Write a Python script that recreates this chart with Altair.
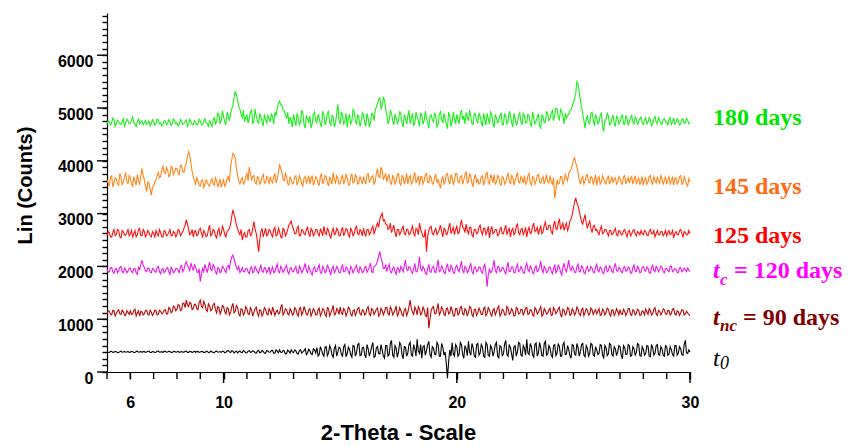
import altair as alt
import pandas as pd
import numpy as np

# 2-Theta sampling grids (degrees): main points and in-between points
theta_main = np.round(np.arange(5.0, 30.05, 0.1), 2)
theta_mid = np.round(np.arange(5.05, 29.96, 0.1), 2)

green = [
4690,4740,4720,4780,4700,4750,4690,4800,4720,4760,
4710,4830,4690,4740,4700,4760,4720,4690,4750,4710,
4740,4700,4770,4720,4680,4750,4710,4740,4700,4760,
4720,4690,4750,4710,4770,4700,4740,4680,4730,4700,
4760,4690,4800,4710,4770,4650,4820,4740,4880,4760,
4830,4680,4850,4900,5050,5320,5150,4980,4820,4740,
4870,4790,4960,4760,4850,4700,4820,4660,4780,4860,
4740,4830,4920,5000,5130,5050,4950,4800,4700,4760,
4880,4660,4820,4740,4900,4620,4790,4850,4700,4930,
4720,4800,4640,4870,4750,4940,4680,4830,4720,5070,
4700,4860,4760,4630,4880,4750,4920,4690,4810,4740,
4870,4660,4800,4730,4880,4950,5080,5190,5040,5150,
4870,4760,4900,4680,4820,4750,4880,4640,4790,4850,
4700,4900,4720,4830,4650,4880,4760,4810,4620,4870,
4740,4850,4690,4930,4720,4800,4610,4860,4740,4790,
4880,4700,4960,4850,4920,4760,4830,4690,4880,4720,
4840,4650,4780,4900,4700,4870,4630,4810,4760,4900,
4690,4830,4750,4880,4640,4800,4720,4910,4680,4850,
4730,4860,4660,4800,4750,4890,4620,4830,4740,4880,
4790,4950,4870,4990,4780,4930,4700,4810,4880,4960,
5100,5280,5450,5150,4900,4620,4850,4700,4920,4660,
4810,4740,4900,4560,4780,4850,4700,4870,4650,4820,
4740,4880,4690,4800,4740,4860,4700,4790,4750,4830,
4690,4820,4730,4780,4700,4840,4710,4770,4690,4800,
4730,4780,4690,4810,4720,4760,4700,4790,4720,4770,
4720]
green_mid = [
4760,4680,4810,4650,4770,4700,4740,4660,4790,4700,
4770,4720,4650,4790,4730,4680,4760,4720,4660,4780,
4680,4790,4700,4660,4760,4690,4780,4670,4790,4700,
4660,4780,4690,4740,4650,4790,4690,4760,4680,4790,
4680,4760,4720,4640,4700,4780,4700,4900,4700,4950,
4740,4920,4760,4980,5200,5250,5030,4880,4960,4830,
4720,4920,4700,4980,4760,4900,4740,4880,4720,4800,
4900,4700,4860,5080,5060,4960,4870,4920,4830,4640,
4770,4900,4680,4960,4680,4860,4720,4620,4880,4760,
4880,4700,4940,4680,4900,4720,4860,4640,4900,4760,
4930,4680,4900,4820,4700,4970,4760,4880,4650,4910,
4720,4900,4640,4900,4760,5020,5170,4990,5200,4980,
4700,4950,4760,4890,4700,4940,4720,4880,4700,4960,
4800,4660,4920,4760,4900,4700,4940,4720,4850,4780,
4910,4640,4880,4780,4900,4700,4920,4650,4930,4700,
4780,4900,4780,4700,4820,4960,4700,4900,4760,4900,
4740,4900,4680,4800,4920,4700,4880,4720,4860,4680,
4900,4700,4940,4720,4900,4680,4860,4740,4900,4720,
4880,4700,4930,4700,4820,4660,4870,4720,4940,4760,
4900,4760,5000,4820,4970,4860,4900,4860,4950,5040,
5180,5500,5300,5020,4760,4800,4720,4900,4780,4880,
4700,4860,4640,4760,4900,4680,4800,4720,4840,4700,
4820,4700,4860,4680,4820,4740,4830,4680,4800,4720,
4780,4700,4820,4660,4790,4730,4820,4700,4790,4740,
4680,4820,4740,4700,4800,4680,4790,4710,4800,4700]

orange = [
3640,3520,3720,3580,3660,3540,3700,3600,3780,3560,
3680,3520,3620,3740,3560,3860,3640,3420,3580,3350,
3520,3640,3780,3700,3900,3760,3820,3720,3880,3790,
3850,3740,3900,3780,3960,4170,3950,3700,3560,3620,
3520,3640,3560,3600,3520,3660,3540,3620,3580,3500,
3640,3560,3700,3900,4140,4050,3720,3560,3680,3600,
3760,3880,3640,3720,3560,3680,3600,3740,3580,3660,
3700,3580,3760,3650,3920,3780,3620,3700,3540,3640,
3580,3720,3600,3660,3520,3700,3640,3560,3720,3600,
3680,3540,3760,3620,3700,3520,3640,3780,3580,3660,
3560,3720,3620,3680,3540,3760,3600,3700,3580,3640,
3700,3560,3760,3640,3720,3600,3850,3680,3820,3700,
3600,3740,3560,3680,3620,3760,3540,3700,3640,3560,
3720,3600,3780,3640,3540,3700,3620,3760,3580,3680,
3560,3740,3640,3480,3700,3600,3760,3560,3680,3620,
3760,3580,3720,3640,3800,3600,3700,3520,3740,3660,
3580,3720,3620,3780,3560,3680,3740,3600,3700,3540,
3680,3600,3760,3560,3700,3620,3780,3580,3660,3720,
3600,3760,3540,3680,3620,3740,3580,3700,3640,3600,
3720,3560,3290,3640,3580,3700,3620,3680,3760,3840,
4010,3960,3780,3560,3700,3620,3740,3580,3680,3620,
3540,3700,3600,3660,3560,3720,3620,3580,3680,3600,
3660,3560,3720,3620,3580,3700,3640,3560,3680,3600,
3540,3680,3600,3720,3560,3640,3700,3580,3660,3620,
3560,3700,3620,3540,3680,3600,3720,3580,3640,3520,
3600]
orange_mid = [
3580,3700,3500,3680,3560,3760,3540,3680,3620,3720,
3560,3700,3540,3620,3700,3720,3520,3600,3460,3500,
3600,3720,3680,3840,3780,3880,3700,3900,3740,3860,
3760,3920,3800,3880,4080,4100,3800,3620,3680,3540,
3620,3500,3640,3540,3620,3560,3680,3500,3660,3580,
3520,3660,3600,4020,4110,3860,3620,3640,3560,3700,
3620,3760,3700,3580,3700,3560,3700,3580,3700,3560,
3620,3700,3580,3780,3860,3640,3760,3560,3700,3560,
3700,3540,3720,3560,3680,3580,3720,3660,3540,3700,
3560,3700,3560,3720,3580,3700,3560,3640,3720,3560,
3680,3560,3740,3560,3700,3580,3740,3560,3700,3560,
3620,3740,3600,3700,3560,3760,3700,3880,3640,3760,
3700,3580,3720,3560,3740,3580,3720,3560,3760,3680,
3560,3700,3580,3720,3700,3560,3740,3600,3720,3560,
3700,3580,3560,3640,3560,3740,3620,3740,3560,3760,
3600,3700,3560,3740,3580,3760,3560,3680,3580,3560,
3700,3540,3760,3600,3740,3580,3560,3720,3560,3700,
3560,3700,3620,3720,3540,3700,3600,3700,3580,3560,
3720,3580,3700,3560,3720,3600,3660,3560,3740,3580,
3600,3680,3450,3560,3700,3560,3740,3620,3800,3920,
4060,3880,3640,3660,3560,3720,3600,3700,3560,3740,
3660,3560,3720,3580,3660,3560,3700,3660,3560,3700,
3580,3700,3560,3680,3660,3560,3720,3620,3560,3700,
3640,3560,3700,3600,3700,3580,3620,3720,3560,3700,
3640,3560,3700,3660,3560,3700,3560,3700,3560,3660]

red = [
2580,2640,2560,2700,2600,2680,2540,2650,2590,2700,
2620,2560,2680,2600,2720,2580,2660,2600,2640,2560,
2620,2680,2580,2640,2560,2660,2600,2700,2580,2640,
2600,2680,2620,2720,2880,2700,2620,2560,2680,2600,
2720,2560,2640,2580,2780,2600,2680,2540,2720,2620,
2700,2560,2680,2800,3070,2900,2720,2600,2500,2640,
2560,2700,2600,2850,2620,2280,2660,2560,2720,2600,
2680,2560,2740,2600,2660,2540,2700,2620,2780,2860,
2700,2620,2760,2580,2680,2600,2740,2560,2680,2620,
2700,2580,2660,2760,2600,2680,2540,2720,2620,2680,
2580,2740,2640,2700,2560,2680,2620,2760,2600,2660,
2720,2580,2700,2640,2760,2680,2820,2900,3010,2880,
2800,2720,2640,2780,2560,2700,2640,2760,2600,2700,
2620,2760,2580,2700,2820,2640,2560,2280,2680,2760,
2600,2720,2640,2780,2560,2700,2620,2820,2680,2600,
2760,2640,2880,2720,2800,2620,2740,2560,2700,2640,
2780,2600,2720,2660,2540,2760,2640,2700,2600,2740,
2620,2780,2680,2560,2720,2640,2800,2600,2720,2660,
2560,2740,2640,2820,2680,2600,2760,2660,2840,2700,
2780,2620,2860,2700,2900,2760,2680,2820,2740,2900,
3100,3300,3150,2950,2800,2980,2720,2860,2640,2780,
2700,2600,2760,2640,2700,2580,2680,2620,2720,2580,
2660,2600,2700,2560,2680,2620,2700,2580,2640,2680,
2600,2660,2580,2700,2620,2560,2680,2600,2660,2620,
2580,2680,2620,2540,2660,2600,2700,2560,2640,2600,
2620]
red_mid = [
2660,2560,2640,2580,2700,2560,2680,2600,2640,2580,
2680,2620,2560,2700,2580,2700,2560,2680,2580,2660,
2560,2620,2700,2560,2680,2580,2640,2580,2660,2560,
2700,2580,2660,2780,2800,2600,2700,2660,2580,2700,
2620,2680,2560,2700,2580,2700,2580,2660,2580,2760,
2600,2660,2720,2950,2980,2780,2640,2700,2600,2560,
2680,2580,2720,2700,2480,2500,2720,2640,2580,2700,
2600,2700,2580,2720,2560,2720,2580,2700,2820,2760,
2620,2720,2580,2700,2620,2700,2620,2720,2580,2700,
2620,2700,2580,2640,2720,2580,2660,2600,2720,2580,
2680,2580,2720,2600,2720,2580,2720,2620,2700,2580,
2620,2700,2600,2720,2620,2760,2740,2960,2860,2800,
2700,2820,2700,2640,2700,2600,2720,2620,2700,2600,
2700,2620,2720,2600,2700,2560,2700,2560,2740,2620,
2680,2600,2700,2660,2720,2600,2740,2620,2740,2700,
2620,2780,2740,2640,2680,2740,2600,2700,2620,2740,
2660,2720,2600,2760,2680,2620,2700,2580,2700,2620,
2700,2600,2720,2680,2600,2760,2640,2700,2600,2740,
2680,2620,2760,2660,2740,2700,2620,2780,2700,2780,
2660,2780,2720,2820,2700,2820,2760,2680,2860,2980,
3220,3200,3050,2840,2900,2820,2800,2720,2760,2680,
2640,2700,2620,2700,2640,2680,2600,2680,2600,2680,
2600,2680,2620,2660,2580,2680,2620,2660,2600,2620,
2680,2600,2660,2620,2680,2620,2600,2660,2580,2680,
2640,2600,2680,2620,2600,2680,2620,2660,2600,2680]

magenta = [
1950,1900,1980,1870,1960,1920,2000,1880,1940,1910,
1970,1880,1960,1850,1940,2120,1980,1900,1960,1880,
1950,1890,2000,1860,1960,1910,1980,1850,1940,1900,
1960,1880,2020,1940,2090,1980,2060,1920,1990,1880,
1710,1960,2040,1880,2080,1920,2000,1860,1960,1900,
1980,1880,2020,2100,2215,2060,1940,1880,1980,1900,
1960,1860,1990,1900,1950,1870,2020,1890,1960,1920,
1850,1990,1900,2040,1880,1960,1920,2020,1860,1980,
1900,2000,1870,1960,1920,2060,1880,1940,1840,1990,
1910,2030,1870,1960,1900,1980,1850,2000,1920,1960,
1880,2040,1900,1970,1860,1960,1920,2020,1880,1950,
1900,2000,1930,2060,1880,2010,2100,2280,2080,1960,
1900,2040,1880,1990,1850,1960,2000,1900,2120,1920,
1980,1870,2060,1900,2180,1920,1960,1850,2040,1890,
2000,1880,2130,1920,1960,1860,2050,1900,1980,1870,
2020,1900,2100,1880,1970,1910,2060,1860,1990,1920,
1980,1870,2040,1615,1960,1900,2120,1880,2000,1920,
1970,1860,2080,1910,1990,1880,2040,1920,1960,1870,
2060,1900,1980,1860,2010,1920,2100,1880,1960,1900,
1990,1860,2040,1920,1980,1840,2060,1900,2120,1920,
1960,1880,2040,1900,1980,1860,2000,1920,1970,1880,
2040,1900,1960,1860,2010,1920,1980,1880,2060,1910,
1960,1880,2000,1920,1970,1870,2030,1900,1960,1890,
2000,1910,1960,1870,2020,1900,1970,1930,1990,1880,
1960,1900,2000,1920,1950,1880,1980,1920,1940,1970,
1900]
magenta_mid = [
1890,1970,1900,1950,1880,1980,1900,1970,1880,1960,
1900,1960,1880,1980,2040,2020,1920,1970,1890,1960,
1900,1980,1900,1950,1880,1960,1900,1980,1880,1960,
1920,2000,1900,2040,2010,1920,1990,2030,1900,1960,
1860,1900,1960,2000,1940,2040,1900,1980,1880,2000,
1920,2000,1960,2180,2140,1980,2000,1920,1900,1960,
1900,1960,1880,2000,1900,1960,1900,1980,1880,1990,
1930,1880,1980,1900,2000,1890,1980,1900,1960,1900,
1960,1880,2010,1880,1980,1920,2000,1880,1960,1900,
1980,1880,2000,1880,2020,1900,1960,1880,2000,1880,
1960,1900,1990,1900,2000,1880,1980,1900,1990,1880,
1980,1890,1990,1900,2000,2040,2200,2160,1960,2040,
1980,1900,1960,1900,1980,1880,1960,2020,1940,2000,
1900,1960,1900,2000,1960,2000,1880,1960,1900,1980,
1900,2000,1900,2010,1880,1980,1920,2020,1880,1990,
1930,2000,1920,2000,1880,2000,1900,1980,1900,1990,
1900,1990,1880,1840,1880,2000,1920,1990,1900,1980,
1900,1990,1900,1990,1880,1980,1900,2000,1880,2000,
1940,2010,1880,1970,1900,2000,1940,2000,1880,1980,
1910,1960,1880,2020,1890,1980,1940,2000,1960,2000,
1890,1990,1900,2010,1880,1960,1910,2000,1890,1990,
1920,1990,1880,1980,1900,2010,1900,1990,1920,1980,
1900,1980,1910,1990,1880,1980,1910,2000,1880,1980,
1930,1990,1880,1980,1920,2000,1900,2010,1900,1960,
1920,2000,1900,1960,1880,1970,1900,1970,1900,1930]

darkred = [
1100,1150,1080,1160,1110,1180,1090,1140,1070,1130,
1160,1100,1190,1120,1060,1140,1100,1170,1080,1130,
1110,1160,1090,1150,1120,1180,1100,1200,1150,1230,
1190,1260,1180,1300,1360,1240,1300,1200,1280,1180,
1360,1220,1280,1150,1250,1180,1300,1120,1220,1160,
1240,1100,1200,1130,1300,1150,1220,1060,1180,1120,
1200,1090,1170,1130,1230,1060,1160,1110,1190,1080,
1150,1230,1070,1170,1110,1280,1120,1180,1080,1160,
1100,1190,1060,1220,1130,1170,1080,1200,1120,1160,
1080,1210,1110,1180,1050,1200,1120,1260,1100,1170,
1230,1090,1170,1120,1200,1060,1180,1130,1220,1080,
1160,1110,1240,1070,1180,1130,1210,1090,1170,1140,
1220,1080,1190,1120,1250,1100,1170,1060,1200,1130,
1360,1140,1230,1080,1200,1110,1180,1050,830,1160,
1240,1100,1300,1130,1190,1070,1210,1120,1170,1060,
1200,1110,1240,1080,1170,1130,1220,1050,1190,1120,
1160,1090,1230,1110,1180,1060,1200,1140,1250,1100,
1170,1080,1210,1120,1160,1070,1200,1110,1180,1140,
1220,1100,1170,1060,1190,1130,1240,1090,1160,1120,
1210,1080,1180,1140,1230,1050,1170,1110,1200,1090,
1160,1120,1190,1070,1210,1130,1170,1090,1180,1140,
1100,1200,1080,1160,1120,1190,1060,1170,1110,1150,
1180,1090,1150,1120,1200,1070,1160,1110,1170,1080,
1140,1190,1090,1160,1110,1220,1070,1150,1120,1180,
1090,1160,1110,1200,1080,1140,1120,1170,1100,1120,
1070]
darkred_mid = [
1160,1090,1170,1060,1150,1100,1170,1080,1160,1090,
1090,1170,1060,1160,1150,1080,1160,1090,1170,1070,
1170,1080,1170,1100,1170,1100,1220,1120,1250,1160,
1280,1160,1300,1220,1270,1320,1180,1280,1200,1320,
1240,1340,1180,1290,1160,1280,1180,1240,1100,1260,
1140,1220,1080,1240,1120,1260,1100,1200,1080,1240,
1100,1220,1060,1200,1110,1180,1060,1220,1100,1200,
1080,1160,1140,1100,1220,1080,1200,1100,1200,1080,
1220,1100,1200,1080,1240,1090,1170,1060,1200,1080,
1180,1060,1200,1090,1220,1060,1180,1080,1200,1090,
1120,1200,1060,1230,1100,1160,1070,1200,1100,1180,
1080,1210,1100,1200,1090,1190,1060,1210,1080,1220,
1100,1230,1080,1180,1060,1220,1090,1180,1070,1240,
1200,1080,1180,1240,1080,1230,1070,1220,1000,1220,
1110,1200,1080,1230,1090,1200,1100,1240,1060,1200,
1080,1220,1100,1200,1060,1240,1090,1180,1070,1210,
1090,1200,1070,1220,1100,1170,1080,1210,1060,1190,
1080,1240,1090,1200,1060,1220,1100,1190,1070,1210,
1090,1180,1080,1220,1100,1190,1060,1200,1100,1180,
1070,1220,1100,1200,1080,1190,1080,1220,1070,1200,
1080,1230,1100,1180,1070,1200,1080,1210,1090,1180,
1150,1070,1190,1080,1210,1100,1180,1070,1200,1080,
1100,1190,1070,1200,1090,1180,1080,1190,1070,1160,
1080,1140,1200,1080,1190,1100,1170,1080,1200,1100,
1170,1080,1190,1100,1160,1070,1180,1080,1150,1090]

black = [
380,370,390,375,385,370,395,380,375,390,
375,385,370,395,380,372,388,378,392,370,
385,375,395,380,370,390,378,386,372,392,
380,370,388,376,395,372,386,380,374,390,
378,386,370,392,376,384,368,395,380,372,
390,375,410,368,395,380,360,400,372,390,
365,405,380,395,360,410,375,390,355,400,
380,410,360,395,420,370,400,350,390,420,
365,400,340,420,380,440,360,400,330,420,
460,330,420,300,480,360,440,280,500,380,
450,300,520,350,430,280,490,360,540,320,
470,270,440,380,560,300,480,340,420,260,
500,330,600,280,450,380,520,250,470,360,
560,300,440,620,350,260,500,400,580,280,
450,330,520,300,470,380,-120,420,560,300,
480,340,520,260,440,580,320,460,280,540,
360,470,280,520,300,450,380,560,270,480,
340,600,300,460,220,500,380,540,300,450,
620,330,480,280,550,360,460,300,580,340,
450,280,520,360,480,300,560,340,430,260,
500,320,460,380,540,290,450,350,520,300,
420,360,500,270,460,340,520,300,440,380,
480,250,460,340,500,310,440,370,520,300,
430,350,490,290,460,360,520,320,440,300,
480,340,420,300,500,360,440,320,600,350,
380]
black_mid = [
374,388,372,390,368,386,374,390,378,372,
392,370,388,374,390,386,372,394,370,386,
370,392,374,386,390,374,392,370,388,376,
392,380,374,392,372,390,370,394,386,372,
390,372,392,368,394,370,390,374,388,396,
365,400,380,405,360,398,385,370,405,362,
395,372,402,366,395,365,410,360,405,375,
405,355,420,365,375,410,340,415,360,380,
420,350,410,360,405,330,430,345,440,360,
300,480,340,470,310,500,320,450,300,470,
330,480,290,470,330,500,300,520,310,460,
330,520,300,480,280,460,350,520,300,500,
300,540,320,500,280,560,330,480,300,520,
320,520,300,400,520,480,320,520,330,480,
340,560,300,540,320,160,200,300,340,520,
300,560,330,500,310,380,540,300,520,320,
520,300,560,310,500,300,520,300,500,310,
530,330,520,340,480,300,560,320,500,320,
360,540,320,520,300,560,310,540,320,500,
320,500,310,540,300,520,330,500,310,520,
340,540,300,520,320,500,300,540,320,480,
330,520,320,500,310,540,330,480,310,500,
320,500,330,520,300,480,320,540,310,480,
320,500,300,520,320,500,330,480,320,500,
320,480,330,500,320,480,330,520,360,420]

series_names = ["180 days", "145 days", "125 days", "tc = 120 days", "tnc = 90 days", "t0"]
series_main = [green, orange, red, magenta, darkred, black]
series_mid = [green_mid, orange_mid, red_mid, magenta_mid, darkred_mid, black_mid]
line_colors = ["#18f018", "#ff8518", "#ff1010", "#e81ae8", "#b80808", "#000000"]

# label colour keys share the colour scale with the traces
label_keys = ["L180", "L145", "L125", "L120", "L90", "L0"]
label_key_colors = ["#00e600", "#ff6a13", "#ff0000", "#ff00ff", "#800000", "#000000"]

# axis tick positions
x_minor_ticks = list(range(5, 31))
x_major_ticks = [10, 20, 30]
x_tick_labels = [6, 10, 20, 30]
y_minor_ticks = list(range(0, 6751, 125))
y_major_ticks = list(range(0, 6001, 1000))

frames = []
for name, main_vals, mid_vals in zip(series_names, series_main, series_mid):
    frames.append(pd.DataFrame({"theta": theta_main, "counts": main_vals, "series": name}))
    frames.append(pd.DataFrame({"theta": theta_mid, "counts": mid_vals, "series": name}))
df = pd.concat(frames, ignore_index=True).sort_values(["series", "theta"]).reset_index(drop=True)

X_DOMAIN = [5, 30]
Y_DOMAIN = [0, 6800]
PLOT_W, PLOT_H = 583, 359
xs = alt.Scale(domain=X_DOMAIN, nice=False, zero=False)
ys = alt.Scale(domain=Y_DOMAIN, nice=False, zero=False)
cs = alt.Scale(domain=series_names + label_keys, range=line_colors + label_key_colors)

common = dict(domainColor="black", domainWidth=1.2, grid=False, tickColor="black", tickWidth=1.4,
              labelFont="Liberation Sans", labelFontSize=16, labelFontWeight="bold",
              labelColor="black", labelOverlap=False, labelFlush=False)

x_main = alt.Axis(values=x_tick_labels, tickSize=7, labelPadding=15, orient="bottom",
                  title="2-Theta - Scale", titleFont="Liberation Sans", titleFontSize=22,
                  titleFontWeight="bold", titleColor="black", titleX=291, titleY=60,
                  titleBaseline="middle", titleAlign="center", **common)
y_main = alt.Axis(values=y_minor_ticks, labelExpr="datum.value % 1000 == 0 ? datum.label : ''",
                  format="d", tickSize=5, labelPadding=9, labelOffset=6, orient="left",
                  title="Lin (Counts)", titleFont="Liberation Sans", titleFontSize=20,
                  titleFontWeight="bold", titleColor="black", titleX=-82, titleY=172,
                  titleAngle=-90, titleBaseline="middle", titleAlign="center", **common)

lines = alt.Chart(df).mark_line(strokeWidth=1.1, clip=False).encode(
    x=alt.X("theta:Q", scale=xs, axis=x_main),
    y=alt.Y("counts:Q", scale=ys, axis=y_main),
    color=alt.Color("series:N", scale=cs, legend=None),
    order=alt.Order("theta:Q"),
)

# tick marks drawn as rules through the shared scales
def xticks(vals, length):
    return alt.Chart(pd.DataFrame({"theta": vals})).mark_rule(color="black", strokeWidth=1.4).encode(
        x=alt.X("theta:Q", scale=xs, axis=None), y=alt.value(PLOT_H), y2=alt.value(PLOT_H + length))

def yticks(vals, length):
    return alt.Chart(pd.DataFrame({"counts": vals})).mark_rule(color="black", strokeWidth=1.4).encode(
        y=alt.Y("counts:Q", scale=ys, axis=None), x=alt.value(0), x2=alt.value(-length))

tick_layers = [xticks(x_minor_ticks, 7), xticks(x_major_ticks, 11), yticks(y_major_ticks, 10)]

# right-hand annotations: text, colour key, pixel layout (x, baseline y), font size, style group
ann_text = ["180 days", "145 days", "125 days", "= 120 days", "= 90 days",
            "t", "c", "t", "nc", "t", "0"]
ann_key = ["L180", "L145", "L125", "L120", "L90", "L120", "L120", "L90", "L90", "L0", "L0"]
ann_px = [606, 606, 606, 627, 636, 606, 613, 606, 613, 606, 613]
ann_py = [112, 181, 230, 265, 312, 265, 272, 312, 318, 353, 356]
ann_size = [24, 24, 24, 24, 24, 24, 17, 24, 17, 24, 18]
ann_group = ["upright", "upright", "upright", "upright", "upright",
             "italicbold", "italicbold", "italicbold", "italicbold", "italic", "italic"]

ann = pd.DataFrame({"text": ann_text, "key": ann_key, "px": ann_px, "py": ann_py,
                    "fs": ann_size, "group": ann_group})
# pixel layout -> data coordinates of the shared scales
ann["tx"] = X_DOMAIN[0] + ann["px"] / PLOT_W * (X_DOMAIN[1] - X_DOMAIN[0])
ann["ty"] = Y_DOMAIN[1] - ann["py"] / PLOT_H * (Y_DOMAIN[1] - Y_DOMAIN[0])

styles = {"upright": ("normal", "bold"), "italicbold": ("italic", "bold"), "italic": ("italic", "normal")}
texts = []
for g, (fst, fw) in styles.items():
    texts.append(
        alt.Chart(ann[ann["group"] == g]).mark_text(
            font="Liberation Serif", fontStyle=fst, fontWeight=fw, align="left", baseline="alphabetic",
        ).encode(
            x=alt.X("tx:Q", scale=xs, axis=None),
            y=alt.Y("ty:Q", scale=ys, axis=None),
            text="text:N",
            color=alt.Color("key:N", scale=cs, legend=None),
            size=alt.Size("fs:Q", scale=None, legend=None),
        )
    )

chart = alt.layer(lines, *tick_layers, *texts).resolve_axis(
    x="independent", y="independent"
).properties(
    width=PLOT_W, height=PLOT_H,
    padding={"left": 107, "top": 13, "right": 167, "bottom": 74},
    autosize=alt.AutoSizeParams(type="none"),
).configure_view(stroke=None)

chart.save("out.html", embed_options={"renderer": "svg", "actions": False})
